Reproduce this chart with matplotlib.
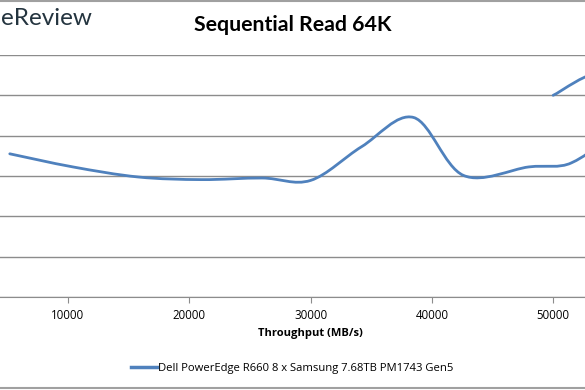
import numpy as np
import matplotlib
matplotlib.use("Agg")
from matplotlib import pyplot as plt
from matplotlib.path import Path
from matplotlib.patches import PathPatch
from matplotlib.lines import Line2D

# data (throughput MB/s, latency ms)
throughput = [5200, 10400, 15800, 21000, 26000, 30000, 34200, 38500, 42600, 48000, 51500, 54300, 53800, 50000]
latency = [0.71, 0.645, 0.595, 0.582, 0.59, 0.578, 0.745, 0.89, 0.603, 0.645, 0.665, 0.82, 1.10, 1.00]
series_name = "Dell PowerEdge R660 8 x Samsung 7.68TB PM1743 Gen5"
xticks = [0, 10000, 20000, 30000, 40000, 50000, 60000]
yticks = [0, 0.2, 0.4, 0.6, 0.8, 1.0, 1.2]

blue = "#4f81bd"
grid = "#8c8c8c"

fig = plt.figure(figsize=(5.85, 3.9), dpi=100)
# axes extends past the figure edges (the picture is a crop of a wider chart)
ax = fig.add_axes([-0.0911, 0.2385, 1.244, 0.6205])

# excel-style smoothed line: bezier segments through the data points
pts = np.column_stack([throughput, latency]).astype(float)
verts = [pts[0]]
codes = [Path.MOVETO]
n = len(pts)
for i in range(n - 1):
    p0 = pts[i - 1] if i > 0 else pts[i]
    p1 = pts[i]
    p2 = pts[i + 1]
    p3 = pts[i + 2] if i + 2 < n else pts[i + 1]
    c1 = p1 + (p2 - p0) / 6.0
    c2 = p2 - (p3 - p1) / 6.0
    verts += [c1, c2, p2]
    codes += [Path.CURVE4] * 3
ax.add_patch(PathPatch(Path(verts, codes), facecolor="none", edgecolor=blue,
                       lw=2.0, capstyle="round", zorder=3))

ax.set_xlim(0, 60000)
ax.set_ylim(0, 1.2)
ax.set_xticks(xticks)
# 0 and 60000 lie outside the cropped view
ax.set_xticklabels(["" if t in (0, 60000) else str(t) for t in xticks],
                   fontsize=8.3, family="Open Sans")
ax.set_yticks(yticks)
ax.set_yticklabels([])
ax.tick_params(axis="y", length=0)
ax.tick_params(axis="x", length=4, color=grid, pad=5)
ax.grid(axis="y", color=grid, lw=1.0)
ax.set_axisbelow(True)
for s in ["top", "right", "left"]:
    ax.spines[s].set_visible(False)
ax.spines["bottom"].set_color(grid)
ax.set_xlabel("Throughput (MB/s)", fontsize=8, fontweight="bold", family="Open Sans", labelpad=4)

fig.text(0.5, 0.935, "Sequential Read 64K", ha="center", va="center",
         fontsize=15.3, fontweight="bold", family="Lato")
fig.text(0.001, 0.952, "eReview", ha="left", va="center", fontsize=17.5,
         family="Lato", color="#24343f")

# legend
leg_handle = Line2D([0], [0], color=blue, lw=2.5)
fig.legend([leg_handle], [series_name], loc="center", bbox_to_anchor=(0.5, 0.055),
           frameon=False, prop={"family": "Open Sans", "size": 8.1}, handlelength=2.3,
           handletextpad=0.1)

# chart area border lines (top and bottom visible in the crop)
fig.add_artist(Line2D([0, 1], [0.998, 0.998], color="#a0a0a0", lw=1.5, transform=fig.transFigure))
fig.add_artist(Line2D([0, 1], [0.004, 0.004], color="#a0a0a0", lw=1.5, transform=fig.transFigure))

fig.savefig("out.png", dpi=100)
